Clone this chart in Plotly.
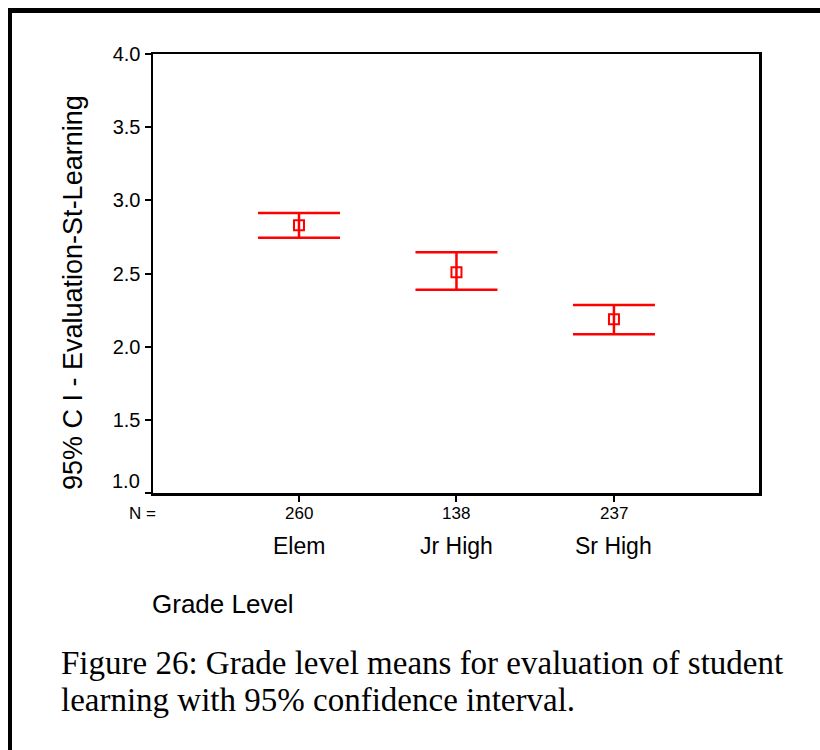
import plotly.graph_objects as go

# ---- data ----
categories = ["Elem", "Jr High", "Sr High"]
n_counts = ["260", "138", "237"]
means = [2.829, 2.508, 2.187]
ci_lower = [2.745, 2.389, 2.085]
ci_upper = [2.913, 2.645, 2.285]
y_ticks = [1.0, 1.5, 2.0, 2.5, 3.0, 3.5, 4.0]
y_tick_labels = ["1.0", "1.5", "2.0", "2.5", "3.0", "3.5", "4.0"]
y_title = "95% C I - Evaluation-St-Learning"
x_title = "Grade Level"
caption_lines = ["Figure 26: Grade level means for evaluation of student",
                 "learning with 95% confidence interval."]

W, H = 820, 750
L, R, T, B = 153, 759, 54, 493  # plot area pixels


def px(x):
    return (x - L) / (R - L)


def py(y):
    return (B - y) / (B - T)


xpos = list(range(1, len(categories) + 1))
err_plus = [u - m for u, m in zip(ci_upper, means)]
err_minus = [m - l for m, l in zip(means, ci_lower)]

RED = "#FF0000"
SANS = "Liberation Sans, Arial, sans-serif"
SERIF = "Liberation Serif, Times New Roman, serif"

fig = go.Figure()
fig.add_trace(go.Scatter(
    x=xpos, y=means, mode="markers",
    marker=dict(symbol="square-open", size=10, color=RED, line=dict(width=2, color=RED)),
    error_y=dict(type="data", symmetric=False, array=err_plus, arrayminus=err_minus,
                 color=RED, thickness=2.5, width=41),
    showlegend=False, hoverinfo="skip",
))

annotations = []
# N counts and category labels under ticks
for xv, n, c in zip(xpos, n_counts, categories):
    annotations.append(dict(x=xv, xref="x", y=py(513), yref="paper", text=n, showarrow=False,
                            font=dict(family=SANS, size=17, color="black"),
                            xanchor="center", yanchor="middle"))
    annotations.append(dict(x=xv, xref="x", y=py(546), yref="paper", text=c, showarrow=False,
                            font=dict(family=SANS, size=23, color="black"),
                            xanchor="center", yanchor="middle"))
annotations.append(dict(x=px(158), xref="paper", y=py(513), yref="paper", text="N =", showarrow=False,
                        font=dict(family=SANS, size=17, color="black"),
                        xanchor="right", yanchor="middle"))
# raised "1.0" label
annotations.append(dict(x=px(142), xref="paper", y=y_ticks[0], yref="y", yshift=12,
                        text=y_tick_labels[0], showarrow=False,
                        font=dict(family=SANS, size=20, color="black"),
                        xanchor="right", yanchor="middle"))
# axis titles
annotations.append(dict(x=px(73), xref="paper", y=py(293), yref="paper", text=y_title,
                        textangle=-90, showarrow=False,
                        font=dict(family=SANS, size=27, color="black"),
                        xanchor="center", yanchor="middle"))
annotations.append(dict(x=px(150), xref="paper", y=py(604), yref="paper", text=x_title,
                        showarrow=False, font=dict(family=SANS, size=26, color="black"),
                        xanchor="left", yanchor="middle"))
# caption
for i, (line, yy) in enumerate(zip(caption_lines, [663, 700])):
    annotations.append(dict(x=px(59), xref="paper", y=py(yy), yref="paper", text=line,
                            showarrow=False, font=dict(family=SERIF, size=33, color="black"),
                            xanchor="left", yanchor="middle"))

shapes = [
    dict(type="line", xref="paper", yref="paper", x0=px(10), x1=px(10), y0=py(760), y1=py(8),
         line=dict(color="black", width=4)),
    dict(type="line", xref="paper", yref="paper", x0=px(8), x1=px(830), y0=py(10.5), y1=py(10.5),
         line=dict(color="black", width=5)),
]

fig.update_layout(
    width=W, height=H,
    margin=dict(l=L, r=W - R, t=T, b=H - B, pad=0),
    paper_bgcolor="white", plot_bgcolor="white",
    xaxis=dict(range=[0.073, 3.921], tickvals=xpos, ticktext=["", "", ""],
               showgrid=False, zeroline=False, showline=True, linecolor="black", linewidth=2.5,
               mirror=True, ticks="outside", ticklen=6, tickwidth=2, tickcolor="black"),
    yaxis=dict(range=[1.0, 4.0], tickvals=y_ticks, ticktext=[""] + y_tick_labels[1:],
               showgrid=False, zeroline=False, showline=True, linecolor="black", linewidth=2.5,
               mirror=True, ticks="outside", ticklen=6, tickwidth=2, tickcolor="black",
               tickfont=dict(family=SANS, size=20, color="black")),
    annotations=annotations,
    shapes=shapes,
)

fig.write_html(
    "out.html",
    config={"displayModeBar": False, "staticPlot": True},
    post_script="document.body.style.margin='0';document.body.style.overflow='hidden';",
)
